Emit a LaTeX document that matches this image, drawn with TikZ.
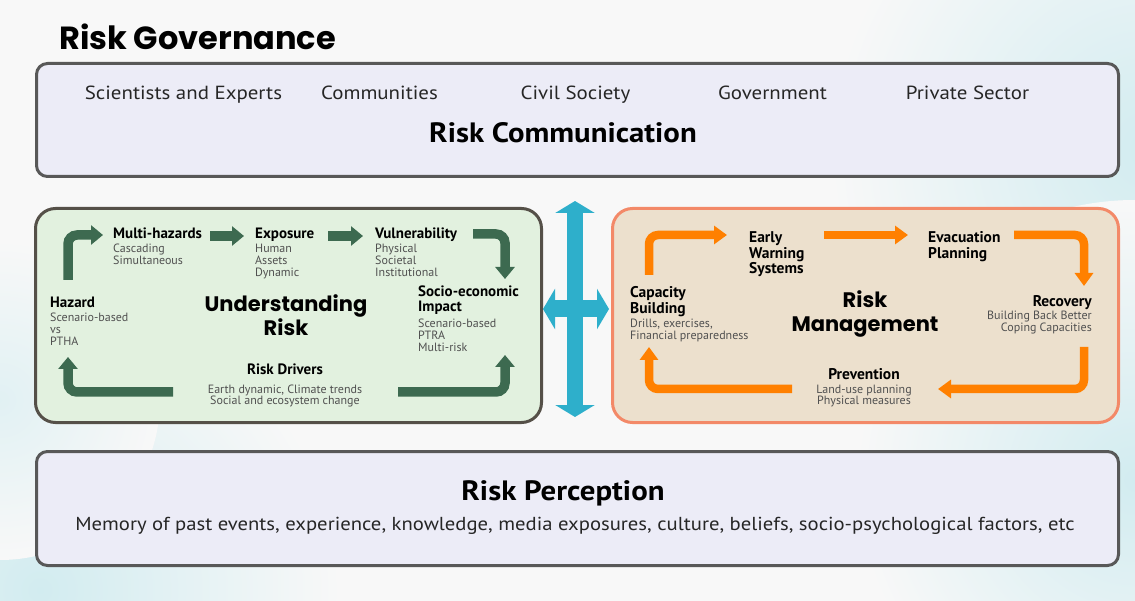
\documentclass[tikz,border=0pt]{standalone}
\usepackage{fontspec}
\setmainfont{PT Sans}
\newfontfamily\wide{PT Sans}[FakeStretch=1.1]
\newfontfamily\geo{Poppins}
\usetikzlibrary{arrows.meta}
\definecolor{bgc}{RGB}{248,248,248}
\definecolor{lav}{RGB}{236,236,247}
\definecolor{grayb}{RGB}{88,88,88}
\definecolor{grfill}{RGB}{226,241,223}
\definecolor{grb}{RGB}{85,80,72}
\definecolor{befill}{RGB}{236,224,205}
\definecolor{orb}{RGB}{243,137,104}
\definecolor{garr}{RGB}{61,106,80}
\definecolor{oarr}{RGB}{255,128,0}
\definecolor{barr}{RGB}{46,175,203}
\definecolor{subt}{RGB}{80,80,80}
\definecolor{tint}{RGB}{210,236,240}
\newcommand\Lb[1]{\vtop{\halign{##\hfil\cr#1\crcr}}}
\newcommand\Rb[1]{\vtop{\halign{\hfil##\cr#1\crcr}}}
\newcommand\Cb[1]{\vtop{\halign{\hfil##\hfil\cr#1\crcr}}}
\tikzset{
  govbox/.style={draw=grayb, line width=3pt, fill=lav, rounded corners=11pt, inner sep=0, anchor=north west},
  grbox/.style={draw=grb, line width=3pt, fill=grfill, rounded corners=20pt, inner sep=0, anchor=north west},
  orbox/.style={draw=orb, line width=3pt, fill=befill, rounded corners=20pt, inner sep=0, anchor=north west},
  item/.style={inner sep=0, anchor=base, font=\wide\fontsize{19}{20}\selectfont, text=black!85},
  bigtitle/.style={inner sep=0, anchor=base, font=\wide\bfseries\fontsize{28}{28}\selectfont},
  geotitle/.style={inner sep=0, anchor=base, font=\geo\bfseries\fontsize{21}{24}\selectfont},
  lbl/.style={inner sep=0, anchor=base west, font=\bfseries\fontsize{15}{15}\selectfont},
  sub/.style={inner sep=0, anchor=base west, font=\fontsize{12}{11.6}\selectfont, text=subt},
  garrow/.style={draw=garr, line width=9.5pt, rounded corners=9pt, -{Triangle[width=19pt,length=12pt]}},
  oarrow/.style={draw=oarr, line width=8.5pt, rounded corners=9pt, -{Triangle[width=18pt,length=13pt]}},
  barrow/.style={draw=barr, {Triangle[width=39pt,length=12pt]}-{Triangle[width=39pt,length=12pt]}}
}
\begin{document}
\begin{tikzpicture}[x=1pt,y=-1pt]
\useasboundingbox (0,0) rectangle (1135,601);
\fill[bgc] (0,0) rectangle (1135,601);
\begin{scope}
  \clip (0,0) rectangle (1135,601);
  \shade[inner color=tint, outer color=bgc] (1150,150) circle (320);
  \shade[inner color=tint, outer color=bgc] (1135,480) circle (280);
  \shade[inner color=tint, outer color=bgc] (40,590) circle (300);
  \shade[inner color=tint!60!bgc, outer color=bgc] (0,400) circle (160);
\end{scope}

% title
\node[inner sep=0, anchor=base west, font=\geo\bfseries\fontsize{32}{32}\selectfont] (gov) at (59,50) {Risk Governance};

% top box
\node[govbox, minimum width=1082pt, minimum height=113pt] (comm) at (35,62) {};
\node[item] (sci) at (183.5,100) {Scientists and Experts};
\node[item] (cmty) at (379.5,100) {Communities};
\node[item] (civ) at (575.5,100) {Civil Society};
\node[item] (govt) at (772.5,100) {Government};
\node[item] (priv) at (967.5,100) {Private Sector};
\node[bigtitle] (rc) at (563,143) {Risk Communication};

% bottom box
\node[govbox, minimum width=1082pt, minimum height=114pt] (perc) at (35,450) {};
\node[bigtitle] (rp) at (563,500) {Risk Perception};
\node[item, font=\wide\fontsize{18.8}{20}\selectfont] (rpsub) at (575,530) {Memory of past events, experience, knowledge, media exposures, culture, beliefs, socio-psychological factors, etc};

% left box
\node[grbox, minimum width=506pt, minimum height=214pt] (ur) at (34,207) {};
\node[geotitle] (urt) at (286,312) {Understanding};
\node[geotitle] (urt2) at (286,336) {Risk};
\node[lbl] (haz) at (50,308) {Hazard};
\node[sub] (hazs) at (50,322) {\Lb{Scenario-based\cr vs\cr PTHA}};
\node[lbl] (mh) at (113,239) {Multi-hazards};
\node[sub] (mhs) at (113,253) {\Lb{Cascading\cr Simultaneous}};
\node[lbl] (exp) at (255,239) {Exposure};
\node[sub] (exps) at (255,253) {\Lb{Human\cr Assets\cr Dynamic}};
\node[lbl] (vul) at (375,239) {Vulnerability};
\node[sub] (vuls) at (375,253) {\Lb{Physical\cr Societal\cr Institutional}};
\node[lbl] (soc) at (418,297) {\Lb{Socio-economic\cr Impact}};
\node[sub] (socs) at (418,328) {\Lb{Scenario-based\cr PTRA\cr Multi-risk}};
\node[lbl, anchor=base] (rd) at (285,375) {Risk Drivers};
\node[sub, anchor=base] (rds) at (285,393) {\Cb{Earth dynamic, Climate trends\cr Social and ecosystem change}};

\coordinate (g1a) at (68,280); \coordinate (g1b) at (68,235); \coordinate (g1c) at (103,235);
\coordinate (g2a) at (210,236); \coordinate (g2b) at (244,236);
\coordinate (g3a) at (328,236); \coordinate (g3b) at (363,236);
\coordinate (g4a) at (473,234); \coordinate (g4b) at (505,234); \coordinate (g4c) at (505,279);
\coordinate (g5a) at (398,392); \coordinate (g5b) at (505,392); \coordinate (g5c) at (505,355);
\coordinate (g6a) at (173,392); \coordinate (g6b) at (68,392); \coordinate (g6c) at (68,357);
\draw[garrow] (g1a) -- (g1b) -- (g1c);
\draw[garrow] (g2a) -- (g2b);
\draw[garrow] (g3a) -- (g3b);
\draw[garrow] (g4a) -- (g4b) -- (g4c);
\draw[garrow] (g5a) -- (g5b) -- (g5c);
\draw[garrow] (g6a) -- (g6b) -- (g6c);

% right box
\node[orbox, minimum width=506pt, minimum height=214pt] (rm) at (611,207) {};
\node[geotitle] (rmt) at (865,308) {Risk};
\node[geotitle] (rmt2) at (865,332) {Management};
\node[lbl, font=\bfseries\fontsize{15.5}{15.2}\selectfont] (ews) at (749,243) {\Lb{Early\cr Warning\cr Systems}};
\node[lbl, font=\bfseries\fontsize{15.5}{15.2}\selectfont] (evac) at (928,243) {\Lb{Evacuation\cr Planning}};
\node[lbl, font=\bfseries\fontsize{15.5}{15.2}\selectfont] (cap) at (630,298) {\Lb{Capacity\cr Building}};
\node[sub] (caps) at (630,328) {\Lb{Drills, exercises,\cr Financial preparedness}};
\node[lbl, anchor=base east, font=\bfseries\fontsize{15.5}{15.2}\selectfont] (rec) at (1092,307) {Recovery};
\node[sub, anchor=base east] (recs) at (1092,320) {\Rb{Building Back Better\cr Coping Capacities}};
\node[lbl, anchor=base, font=\bfseries\fontsize{15.5}{15.2}\selectfont] (prev) at (864,380) {Prevention};
\node[sub, anchor=base] (prevs) at (864,393) {\Cb{Land-use planning\cr Physical measures}};

\coordinate (o1a) at (649,275); \coordinate (o1b) at (649,235); \coordinate (o1c) at (727,235);
\coordinate (o2a) at (824,235); \coordinate (o2b) at (908,235);
\coordinate (o3a) at (1014,235); \coordinate (o3b) at (1084,235); \coordinate (o3c) at (1084,286);
\coordinate (o4a) at (1084,347); \coordinate (o4b) at (1084,389); \coordinate (o4c) at (938,389);
\coordinate (o5a) at (792,389); \coordinate (o5b) at (649,389); \coordinate (o5c) at (649,347);
\draw[oarrow] (o1a) -- (o1b) -- (o1c);
\draw[oarrow] (o2a) -- (o2b);
\draw[oarrow] (o3a) -- (o3b) -- (o3c);
\draw[oarrow] (o4a) -- (o4b) -- (o4c);
\draw[oarrow] (o5a) -- (o5b) -- (o5c);

% blue double cross arrow
\coordinate (bt) at (575,201); \coordinate (bb) at (575,417);
\coordinate (bl) at (543,309); \coordinate (br) at (609,309);
\draw[barrow, line width=16pt] (bt) -- (bb);
\draw[barrow, line width=17pt, {Triangle[width=40pt,length=12pt]}-{Triangle[width=40pt,length=12pt]}] (bl) -- (br);
\end{tikzpicture}
\end{document}
